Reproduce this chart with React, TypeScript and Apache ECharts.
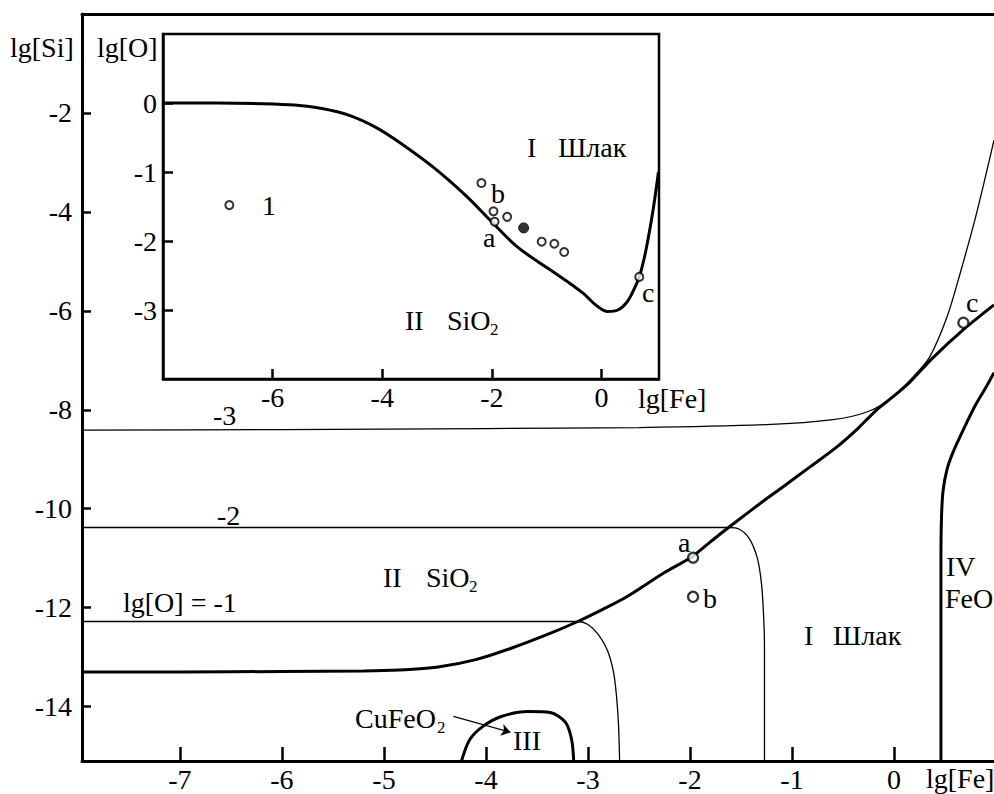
import React, { useEffect, useRef } from 'react';
import * as echarts from 'echarts';

const FONT = '"Liberation Serif", "Times New Roman", serif';

// ---------- Main diagram: lg[Fe] (x) vs lg[Si] (y) ----------
const mainXTicks = [-7, -6, -5, -4, -3, -2, -1, 0];
const mainYTicks = [-14, -12, -10, -8, -6, -4, -2];

// thick boundary I (slag) / II (SiO2)
const slagSio2Boundary = [
  [-7.96, -13.3], [-7, -13.3], [-6, -13.29], [-5.2, -13.28], [-4.85, -13.26],
  [-4.47, -13.2], [-4.1, -13.05], [-3.74, -12.81], [-3.36, -12.51], [-3.1, -12.28],
  [-2.85, -12.03], [-2.62, -11.78], [-2.25, -11.29], [-1.98, -10.97], [-1.8, -10.67],
  [-1.61, -10.36], [-1.29, -9.86], [-1.09, -9.56], [-0.82, -9.15], [-0.56, -8.75],
  [-0.35, -8.37], [-0.17, -8.0], [0.0, -7.72], [0.16, -7.43], [0.38, -6.95],
  [0.68, -6.38], [0.98, -5.88],
];
// thin iso-oxygen lines lg[O] = -1, -2, -3
const isoO1 = [
  [-7.96, -12.28], [-6, -12.28], [-4.5, -12.28], [-3.5, -12.28], [-3.1, -12.28],
  [-3.0, -12.34], [-2.9, -12.54], [-2.81, -12.86], [-2.75, -13.3], [-2.72, -13.8],
  [-2.7, -14.4], [-2.69, -15.1],
];
const isoO2 = [
  [-7.96, -10.38], [-6, -10.38], [-4, -10.38], [-2.5, -10.38], [-1.9, -10.38],
  [-1.62, -10.38], [-1.52, -10.41], [-1.42, -10.6], [-1.34, -11.0], [-1.3, -11.5],
  [-1.28, -12.1], [-1.27, -12.8], [-1.27, -13.8], [-1.27, -15.1],
];
const isoO3 = [
  [-7.96, -8.41], [-6, -8.4], [-4, -8.38], [-2.5, -8.36], [-1.25, -8.3], [-0.6, -8.2],
  [-0.26, -8.04], [-0.01, -7.74], [0.19, -7.33], [0.35, -6.93], [0.52, -6.12],
  [0.65, -5.23], [0.81, -4.02], [0.98, -2.55],
];
// thick boundary I / IV (FeO)
const feoBoundary = [
  [0.46, -15.1], [0.46, -13], [0.46, -11], [0.465, -10.2], [0.48, -9.65], [0.52, -9.2],
  [0.58, -8.85], [0.68, -8.4], [0.8, -7.9], [0.9, -7.55], [0.98, -7.25],
];
// thick boundary of III (CuFeO2)
const cuFeO2Boundary = [
  [-4.24, -15.1], [-4.16, -14.67], [-4.03, -14.4], [-3.85, -14.2], [-3.59, -14.1],
  [-3.37, -14.12], [-3.22, -14.32], [-3.16, -14.67], [-3.14, -15.1],
];
const mainPoints = [[-1.97, -10.99], [-1.97, -11.78], [0.68, -6.24]];
const cuFeO2Arrow = [[-4.32, -14.2], [-3.76, -14.52]];

// ---------- Inset: lg[Fe] (x) vs lg[O] (y) ----------
const insetXTicks = [-6, -4, -2, 0];
const insetYTicks = [0, -1, -2, -3];
const insetBoundary = [
  [-8, 0], [-7, 0], [-6.2, -0.01], [-5.6, -0.03], [-5.1, -0.08], [-4.6, -0.18],
  [-4.1, -0.36], [-3.67, -0.58], [-3.07, -0.93], [-2.45, -1.36], [-2.03, -1.7],
  [-1.53, -2.09], [-0.93, -2.42], [-0.6, -2.6], [-0.33, -2.76], [-0.1, -2.93],
  [0.1, -3.02], [0.3, -3.0], [0.47, -2.88], [0.6, -2.69], [0.69, -2.52], [0.78, -2.25],
  [0.86, -1.93], [0.95, -1.51], [1.04, -1.0],
];
const insetOpenPoints = [
  [-2.19, -1.16], [-1.97, -1.57], [-1.95, -1.72], [-1.72, -1.65], [-1.09, -2.01],
  [-0.86, -2.04], [-0.68, -2.16], [0.69, -2.52], [-6.79, -1.48],
];
const insetFilledPoints = [[-1.42, -1.81]];

const txt = (text: string, x: number, y: number, size = 28, align = 'left') => ({
  type: 'text',
  x,
  y,
  z: 100,
  style: {
    text,
    fontSize: size,
    fontFamily: FONT,
    fill: '#000',
    align,
    verticalAlign: 'middle',
  },
});

const axisCommon = (ticks: number[], len: number, margin: number, lw: number) => ({
  type: 'value',
  splitLine: { show: false },
  axisLine: { show: true, onZero: false, lineStyle: { color: '#000', width: lw } },
  axisTick: {
    show: true,
    inside: true,
    length: len,
    customValues: ticks,
    lineStyle: { color: '#000', width: 2.5 },
  },
  axisLabel: {
    show: true,
    customValues: ticks,
    color: '#000',
    fontSize: 28,
    fontFamily: FONT,
    margin,
  },
});

export default function App() {
  const ref = useRef<HTMLDivElement>(null);
  useEffect(() => {
    if (!ref.current) return;
    const chart = echarts.init(ref.current, null, { renderer: 'svg' });
    const thick = { color: '#000', width: 3 };
    const thin = { color: '#000', width: 1.3 };
    const lineSeries = (data: number[][], ls: any, xi: number, yi: number) => ({
      type: 'line',
      data,
      xAxisIndex: xi,
      yAxisIndex: yi,
      showSymbol: false,
      symbol: 'none',
      smooth: 0.3,
      lineStyle: ls,
      silent: true,
    });
    chart.setOption({
      animation: false,
      backgroundColor: '#fff',
      grid: [
        { left: 82, top: 14, width: 912, height: 747, show: false },
        {
          left: 163, top: 34, width: 496, height: 345, show: true,
          backgroundColor: '#fff', borderColor: '#000', borderWidth: 2.5,
        },
      ],
      xAxis: [
        { ...axisCommon(mainXTicks, 14, 4, 3), gridIndex: 0, min: -7.96, max: 0.98 },
        {
          type: 'value', gridIndex: 0, position: 'top', min: -7.96, max: 0.98,
          splitLine: { show: false }, axisTick: { show: false }, axisLabel: { show: false },
          axisLine: { show: true, onZero: false, lineStyle: { color: '#000', width: 3 } },
        },
        { ...axisCommon(insetXTicks, 10, 4, 2.5), gridIndex: 1, min: -8, max: 1.05 },
      ],
      yAxis: [
        { ...axisCommon(mainYTicks, 9, 10, 3), gridIndex: 0, min: -15.1, max: 0 },
        { ...axisCommon(insetYTicks, 10, 6, 2.5), gridIndex: 1, min: -4, max: 1 },
      ],
      series: [
        lineSeries(isoO1, thin, 0, 0),
        lineSeries(isoO2, thin, 0, 0),
        lineSeries(isoO3, thin, 0, 0),
        lineSeries(slagSio2Boundary, thick, 0, 0),
        lineSeries(feoBoundary, thick, 0, 0),
        lineSeries(cuFeO2Boundary, thick, 0, 0),
        {
          type: 'lines',
          coordinateSystem: 'cartesian2d',
          xAxisIndex: 0,
          yAxisIndex: 0,
          symbol: ['none', 'arrow'],
          symbolSize: 9,
          lineStyle: { color: '#000', width: 1.3, opacity: 1 },
          data: [{ coords: cuFeO2Arrow }],
          silent: true,
        },
        {
          type: 'scatter',
          xAxisIndex: 0,
          yAxisIndex: 0,
          data: mainPoints,
          symbol: 'circle',
          symbolSize: 10,
          itemStyle: { color: '#fff', borderColor: '#000', borderWidth: 2.2 },
          z: 5,
          silent: true,
        },
        lineSeries(insetBoundary, thick, 2, 1),
        {
          type: 'scatter',
          xAxisIndex: 2,
          yAxisIndex: 1,
          data: insetOpenPoints,
          symbol: 'circle',
          symbolSize: 8,
          itemStyle: { color: '#fff', borderColor: '#000', borderWidth: 2 },
          z: 5,
          silent: true,
        },
        {
          type: 'scatter',
          xAxisIndex: 2,
          yAxisIndex: 1,
          data: insetFilledPoints,
          symbol: 'circle',
          symbolSize: 10,
          itemStyle: { color: '#000', borderColor: '#000', borderWidth: 1 },
          z: 5,
          silent: true,
        },
      ],
      graphic: [
        // main diagram texts
        txt('lg[Si]', 10, 47),
        txt('lg[O]', 97, 47),
        txt('lg[Fe]', 926, 778),
        txt('-3', 213, 415),
        txt('-2', 217, 515),
        txt('lg[O] = -1', 123, 602),
        txt('II', 383, 577),
        txt('SiO', 426, 577),
        txt('2', 469, 586, 17),
        txt('a', 678, 542),
        txt('b', 703, 598),
        txt('c', 966, 302),
        txt('I', 804, 635),
        txt('Шлак', 833, 635),
        txt('IV', 946, 566),
        txt('FeO', 945, 598),
        txt('CuFeO', 355, 718),
        txt('2', 437, 727, 17),
        txt('III', 513, 740),
        // inset texts
        txt('I', 527, 147),
        txt('Шлак', 558, 147),
        txt('II', 405, 320),
        txt('SiO', 447, 320),
        txt('2', 490, 329, 17),
        txt('a', 483, 237),
        txt('b', 491, 193),
        txt('c', 642, 292),
        txt('1', 262, 205),
        txt('lg[Fe]', 638, 398),
      ],
    });
    return () => chart.dispose();
  }, []);
  return (
    <div
      ref={ref}
      style={{ position: 'absolute', left: 0, top: 0, width: 994, height: 794 }}
    />
  );
}
